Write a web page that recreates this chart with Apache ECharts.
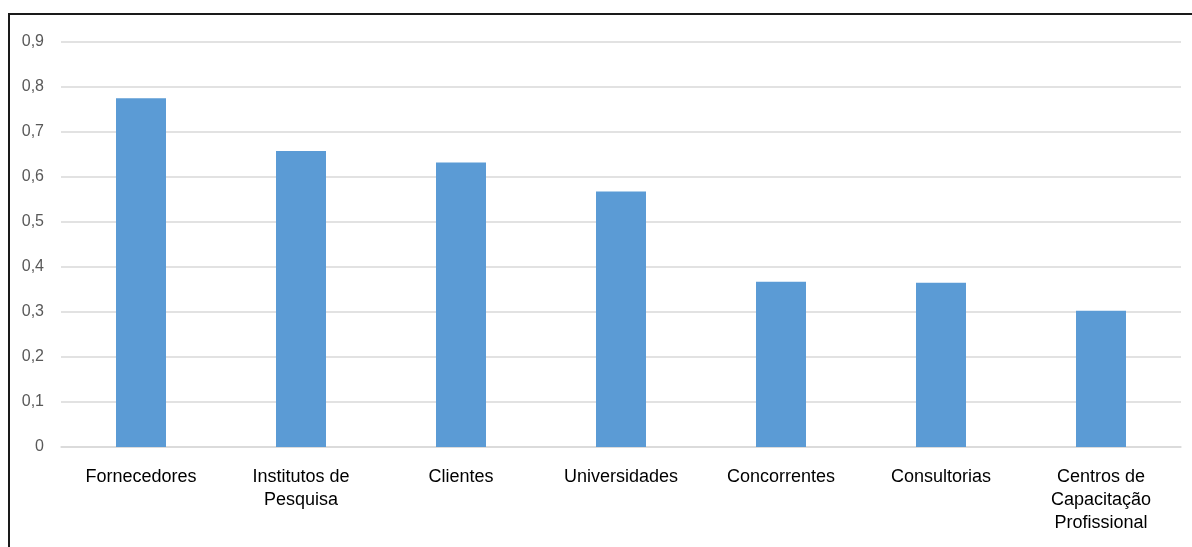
<!DOCTYPE html>
<html>
<head>
<meta charset="utf-8">
<script src="https://cdn.jsdelivr.net/npm/echarts@6/dist/echarts.min.js"></script>
<style>
  html, body { margin: 0; padding: 0; background: #ffffff; }
  #chart { width: 1192px; height: 547px; }
</style>
</head>
<body>
<div id="chart"></div>
<script>
// Categories along the x axis
const categories = [
  'Fornecedores',
  'Institutos de\nPesquisa',
  'Clientes',
  'Universidades',
  'Concorrentes',
  'Consultorias',
  'Centros de\nCapacitação\nProfissional'
];

// Bar values
const values = [0.775, 0.658, 0.632, 0.568, 0.367, 0.365, 0.303];

// Y axis range
const yMin = 0;
const yMax = 0.9;
const yStep = 0.1;

const chart = echarts.init(document.getElementById('chart'), null, { renderer: 'canvas' });

chart.setOption({
  animation: false,
  backgroundColor: '#ffffff',
  grid: { left: 61, right: 11, top: 42, bottom: 100, containLabel: false },
  xAxis: {
    type: 'category',
    data: categories,
    axisLine: { show: true, lineStyle: { color: '#d9d9d9', width: 1.5 } },
    axisTick: { show: false },
    axisLabel: {
      color: '#000000',
      fontFamily: '"Liberation Sans Narrow", "Arial Narrow", "Liberation Sans", Arial, sans-serif',
      fontSize: 18,
      lineHeight: 23,
      margin: 19,
      interval: 0,
      align: 'center'
    }
  },
  yAxis: {
    type: 'value',
    min: yMin,
    max: yMax,
    interval: yStep,
    axisLine: { show: false },
    axisTick: { show: false },
    splitLine: { lineStyle: { color: '#d9d9d9', width: 1.5 } },
    axisLabel: {
      color: '#595959',
      fontFamily: '"Liberation Sans Narrow", "Arial Narrow", "Liberation Sans", Arial, sans-serif',
      fontSize: 16,
      margin: 17,
      formatter: function (v) {
        return (Math.round(v * 10) / 10).toString().replace('.', ',');
      }
    }
  },
  series: [{
    type: 'bar',
    data: values,
    barWidth: 50,
    itemStyle: { color: '#5b9bd5' }
  }],
  graphic: [
    {
      type: 'polyline',
      shape: { points: [[9, 547], [9, 14], [1192, 14]] },
      style: { stroke: '#1a1a1a', lineWidth: 2, fill: null },
      silent: true
    }
  ]
});
</script>
</body>
</html>
